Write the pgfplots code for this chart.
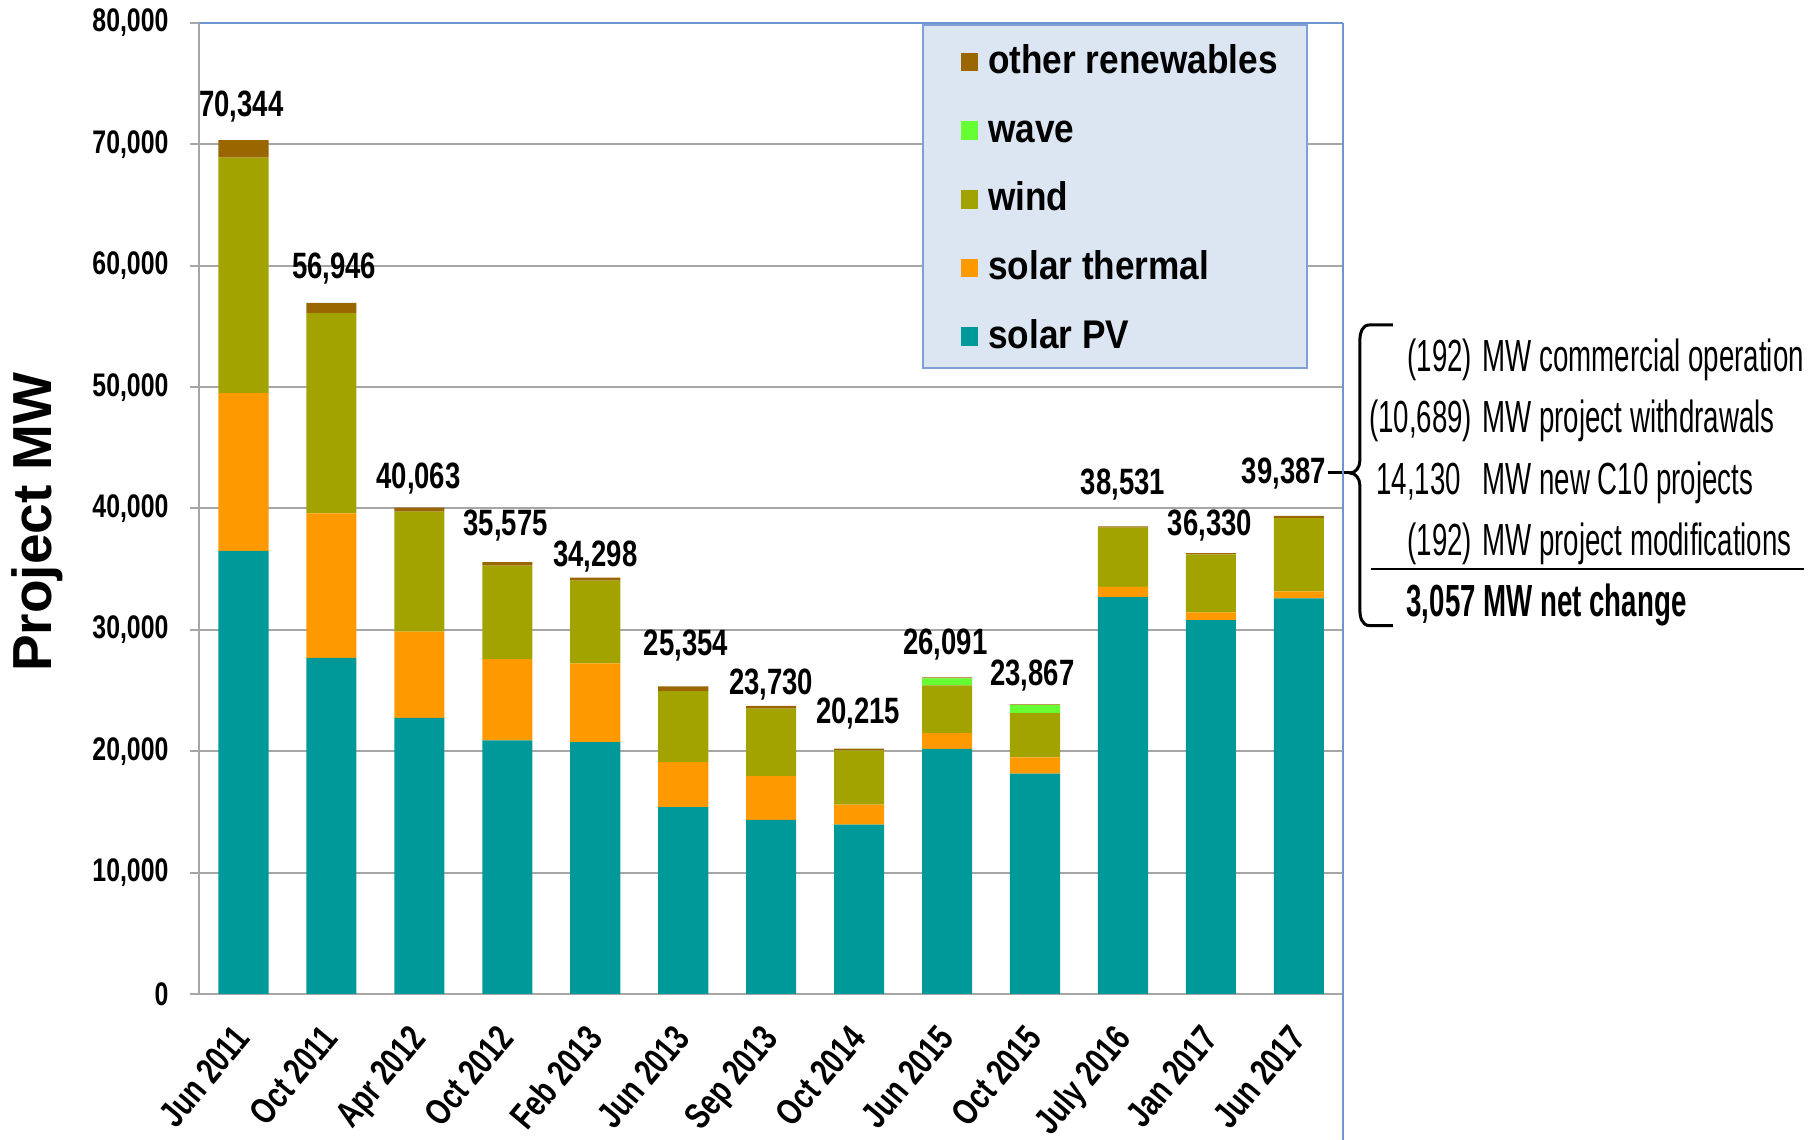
\documentclass[border=0pt]{standalone}
\usepackage{fontspec}
\setmainfont{Liberation Sans}
\newfontfamily\fnb{Liberation Sans}[FakeStretch=0.75]
\newfontfamily\fyt{Liberation Sans}[FakeStretch=0.76]
\newfontfamily\fxt{Liberation Sans}[FakeStretch=0.76]
\newfontfamily\flb{Liberation Sans}[FakeStretch=0.88]
\newfontfamily\fan{Liberation Sans}[FakeStretch=0.615]
\usepackage{pgfplots}
\pgfplotsset{compat=1.18}
\usepackage{pgfplotstable}
\definecolor{pv}{HTML}{009999}
\definecolor{st}{HTML}{FF9900}
\definecolor{windc}{HTML}{A3A300}
\definecolor{wavec}{HTML}{66FF33}
\definecolor{oth}{HTML}{996600}
\definecolor{legbg}{HTML}{DCE6F2}
\definecolor{legbd}{HTML}{7F9FD6}
\definecolor{framec}{HTML}{6F95CF}
\definecolor{gridc}{HTML}{A6A6A6}
\pgfplotstableread{
x pv st wind wave other
0 36500 13000 19400 0 1444
1 27700 11900 16500 0 846
2 22750 7100 9900 0 313
3 20900 6700 7700 0 275
4 20750 6500 6800 0 248
5 15400 3700 5850 0 404
6 14350 3600 5570 0 210
7 13950 1650 4480 0 135
8 20200 1300 3930 570 91
9 18150 1350 3650 650 67
10 32700 850 4880 0 101
11 30800 650 4780 0 100
12 32600 570 6030 0 187
}\mydata
\pgfplotsset{sq/.style={legend image code/.code={\fill[##1] (0pt,-2.8pt) rectangle (5.2pt,2.8pt);}}}
\begin{document}
\begin{tikzpicture}
\useasboundingbox (-59.85pt,-43.8pt) rectangle (485.85pt,298.2pt);
\begin{axis}[
  at={(0,0)}, anchor=south west,
  width=343pt, height=291.3pt, scale only axis,
  ybar stacked, bar width=0.57,
  xmin=-0.5, xmax=12.5, ymin=0, ymax=80000,
  clip=false,
  axis line style={draw=none},
  xtick={0,...,12},
  xticklabels={Jun 2011,Oct 2011,Apr 2012,Oct 2012,Feb 2013,Jun 2013,Sep 2013,Oct 2014,Jun 2015,Oct 2015,July 2016,Jan 2017,Jun 2017},
  xtick style={draw=none},
  x tick label style={font=\fxt\bfseries\fontsize{11}{12}\selectfont, xshift=-3.5pt, yshift=-4.2pt, rotate=50, anchor=north east, inner sep=1pt},
  ytick={0,10000,...,80000},
  ytick pos=left,
  ytick style={gridc, line width=0.6pt},
  tick align=outside, major tick length=2.8pt,
  scaled y ticks=false,
  yticklabel style={font=\fyt\bfseries\fontsize{9.8}{11}\selectfont, xshift=-3pt, /pgf/number format/.cd, fixed, 1000 sep={,}, assume math mode=true},
  ymajorgrids, grid style={gridc, line width=0.6pt},
  reverse legend,
  legend cell align=left,
  legend style={at={(0.6566,0.988)}, anchor=north west, draw=none, fill=none,
    font=\flb\bfseries\fontsize{12}{14}\selectfont, row sep=8.6pt, column sep=3pt,
    nodes={inner sep=0pt, text height=9.5pt, text depth=2.5pt}},
]
\addplot[fill=pv, draw=none, sq] table[x=x, y=pv] {\mydata};
\addplot[fill=st, draw=none, sq] table[x=x, y=st] {\mydata};
\addplot[fill=windc, draw=none, sq] table[x=x, y=wind] {\mydata};
\addplot[fill=wavec, draw=none, sq] table[x=x, y=wave] {\mydata};
\addplot[fill=oth, draw=none, sq] table[x=x, y=other] {\mydata};
\legend{solar PV, solar thermal, wind, wave, other renewables}
\filldraw[fill=legbg, draw=legbd, line width=0.6pt] (rel axis cs:0.633,0.998) rectangle (rel axis cs:0.969,0.645);
\draw[gridc, line width=0.6pt] (rel axis cs:0,1) -- (rel axis cs:0,0) -- (rel axis cs:1,0);
\draw[framec, line width=0.6pt] (rel axis cs:0,1) -- (rel axis cs:1,1);
\node[font=\fnb\bfseries\fontsize{11}{12}\selectfont] at (axis cs:-0.025,73140) {70,344};
\node[font=\fnb\bfseries\fontsize{11}{12}\selectfont] at (axis cs:1.03,59750) {56,946};
\node[font=\fnb\bfseries\fontsize{11}{12}\selectfont] at (axis cs:1.99,42450) {40,063};
\node[font=\fnb\bfseries\fontsize{11}{12}\selectfont] at (axis cs:2.98,38620) {35,575};
\node[font=\fnb\bfseries\fontsize{11}{12}\selectfont] at (axis cs:4.0,36040) {34,298};
\node[font=\fnb\bfseries\fontsize{11}{12}\selectfont] at (axis cs:5.03,28680) {25,354};
\node[font=\fnb\bfseries\fontsize{11}{12}\selectfont] at (axis cs:6.0,25530) {23,730};
\node[font=\fnb\bfseries\fontsize{11}{12}\selectfont] at (axis cs:6.99,23140) {20,215};
\node[font=\fnb\bfseries\fontsize{11}{12}\selectfont] at (axis cs:7.98,28780) {26,091};
\node[font=\fnb\bfseries\fontsize{11}{12}\selectfont] at (axis cs:8.97,26200) {23,867};
\node[font=\fnb\bfseries\fontsize{11}{12}\selectfont] at (axis cs:10.0,41970) {38,531};
\node[font=\fnb\bfseries\fontsize{11}{12}\selectfont] at (axis cs:10.99,38620) {36,330};
\node[font=\fnb\bfseries\fontsize{11}{12}\selectfont] at (axis cs:11.83,42900) {39,387};
\draw[line width=0.9pt] (axis cs:12.33,42925) -- (axis cs:12.579,42925);
\draw[line width=0.9pt, line join=round] (axis cs:13.069,55120) -- (axis cs:12.80,55120) to[out=180,in=90] (axis cs:12.693,53880) -- (axis cs:12.693,43914) to[out=-90,in=0] (axis cs:12.579,42925) to[out=0,in=90] (axis cs:12.693,41936) -- (axis cs:12.693,31640) to[out=-90,in=180] (axis cs:12.80,30360) -- (axis cs:13.069,30360);
\node[inner sep=0pt, font=\fan\fontsize{13.5}{15}\selectfont, anchor=base east] at (axis cs:13.978,51270) {(192)};
\node[inner sep=0pt, font=\fan\fontsize{13.5}{15}\selectfont, anchor=base west] at (axis cs:14.08,51270) {MW commercial operation};
\node[inner sep=0pt, font=\fan\fontsize{13.5}{15}\selectfont, anchor=base east] at (axis cs:13.978,46245) {(10,689)};
\node[inner sep=0pt, font=\fan\fontsize{13.5}{15}\selectfont, anchor=base west] at (axis cs:14.08,46245) {MW project withdrawals};
\node[inner sep=0pt, font=\fan\fontsize{13.5}{15}\selectfont, anchor=base east] at (axis cs:13.853,41113) {14,130};
\node[inner sep=0pt, font=\fan\fontsize{13.5}{15}\selectfont, anchor=base west] at (axis cs:14.08,41113) {MW new C10 projects};
\node[inner sep=0pt, font=\fan\fontsize{13.5}{15}\selectfont, anchor=base east] at (axis cs:13.978,36087) {(192)};
\node[inner sep=0pt, font=\fan\fontsize{13.5}{15}\selectfont, anchor=base west] at (axis cs:14.08,36087) {MW project modifications};
\node[inner sep=0pt, font=\fan\bfseries\fontsize{13.5}{15}\selectfont, anchor=base west] at (axis cs:13.217,31086) {3,057 MW net change};
\draw[line width=0.8pt] (axis cs:12.818,35016) -- (axis cs:17.741,35016);
\end{axis}
\draw[framec, line width=0.6pt] (343pt,291.3pt) -- (343pt,-43.8pt);
\node[rotate=90, font=\bfseries\fontsize{16.5}{18}\selectfont] at (-48.6pt,141.6pt) {Project MW};
\end{tikzpicture}
\end{document}
